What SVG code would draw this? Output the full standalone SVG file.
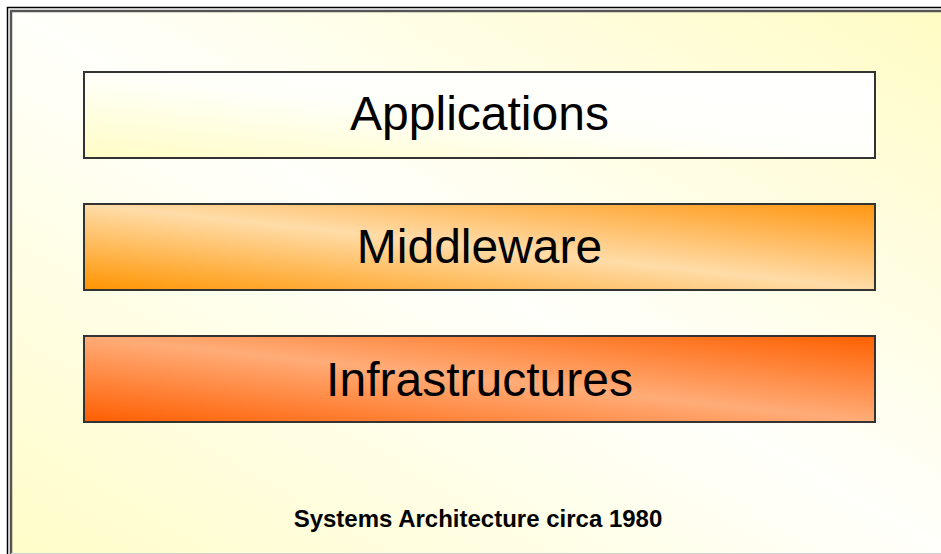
<svg xmlns="http://www.w3.org/2000/svg" width="941" height="554" viewBox="0 0 941 554">
  <defs>
    <!-- slide background: yellow corners, pale diagonal band -->
    <linearGradient id="bg" x1="1" y1="0" x2="0" y2="1">
      <stop offset="0" stop-color="#FFFCC4"/>
      <stop offset="0.5" stop-color="#FFFFFB"/>
      <stop offset="1" stop-color="#FFFDC8"/>
    </linearGradient>
    <linearGradient id="gApp" x1="0" y1="1" x2="1" y2="0">
      <stop offset="0" stop-color="#FFFDC4"/>
      <stop offset="0.5" stop-color="#FFFFFA"/>
      <stop offset="1" stop-color="#FFFFFF"/>
    </linearGradient>
    <linearGradient id="gMid" x1="0" y1="1" x2="1" y2="0">
      <stop offset="0" stop-color="#FF9400"/>
      <stop offset="0.5" stop-color="#FFDCA8"/>
      <stop offset="1" stop-color="#FF9610"/>
    </linearGradient>
    <linearGradient id="gInf" x1="0" y1="1" x2="1" y2="0">
      <stop offset="0" stop-color="#FF5E00"/>
      <stop offset="0.5" stop-color="#FFAC78"/>
      <stop offset="1" stop-color="#FF6000"/>
    </linearGradient>
  </defs>
  <style>
    .layer { stroke: #333333; stroke-width: 2; }
    .label { font-family: "Liberation Sans", Arial, sans-serif; font-size: 48px; fill: #000000; text-anchor: middle; }
    .caption { font-family: "Liberation Sans", Arial, sans-serif; font-size: 24px; font-weight: bold; fill: #000000; text-anchor: middle; }
  </style>

  <!-- page and slide frame -->
  <rect x="0" y="0" width="941" height="554" fill="#FFFFFF"/>
  <rect x="11" y="11" width="940" height="542" fill="url(#bg)"/>
  <path d="M7.5,560 V7.5 H950" fill="none" stroke="#000000" stroke-width="1.5"/>
  <path d="M11,560 V11 H950" fill="none" stroke="#555555" stroke-width="2.5"/>
  <line x1="11" y1="553.5" x2="941" y2="553.5" stroke="#D0D0D0" stroke-width="1"/>

  <g id="connectors"></g>

  <g id="applications">
    <rect class="layer" x="84" y="72" width="791" height="86" fill="url(#gApp)"/>
    <text class="label" x="479.5" y="130">Applications</text>
  </g>

  <g id="middleware">
    <rect class="layer" x="84" y="204" width="791" height="86" fill="url(#gMid)"/>
    <text class="label" x="479.5" y="263">Middleware</text>
  </g>

  <g id="infrastructures">
    <rect class="layer" x="84" y="336" width="791" height="86" fill="url(#gInf)"/>
    <text class="label" x="479.5" y="396">Infrastructures</text>
  </g>

  <g id="caption">
    <text class="caption" x="478" y="527">Systems Architecture circa 1980</text>
  </g>
</svg>
